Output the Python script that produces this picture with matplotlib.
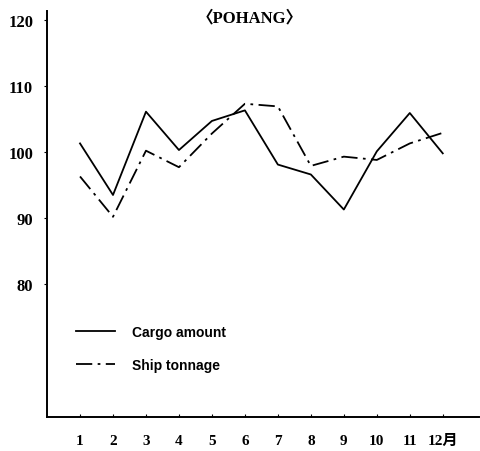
import numpy as np
import matplotlib
matplotlib.use("Agg")
from matplotlib import pyplot as plt

months = np.arange(1, 13)
month_labels = ['1', '2', '3', '4', '5', '6', '7', '8', '9', '10', '11', '12月']
cargo = [101.3, 93.5, 106.1, 100.3, 104.7, 106.3, 98.1, 96.6, 91.3, 100.1, 105.9, 99.8]
tonnage = [96.3, 90.2, 100.2, 97.7, 102.8, 107.3, 106.9, 97.9, 99.3, 98.8, 101.3, 102.9]
y_ticks = [80, 90, 100, 110, 120]

serif = ['Liberation Serif', 'Noto Sans CJK JP', 'DejaVu Sans']

fig = plt.figure(figsize=(4.8, 4.52), dpi=100)
ax = fig.add_axes([0.098, 0.075, 0.90, 0.898])

ax.plot(months, cargo, color='black', lw=1.3, label='Cargo amount')
ax.plot(months, tonnage, color='black', lw=1.3, dashes=(9, 3, 1.5, 3), label='Ship tonnage')

ax.set_xlim(0, 13.1)
ax.set_ylim(59.9, 121.3)

ax.spines['top'].set_visible(False)
ax.spines['right'].set_visible(False)
ax.spines['left'].set_linewidth(1.4)
ax.spines['bottom'].set_linewidth(1.4)

ax.set_xticks(months)
ax.set_xticklabels(month_labels, family=serif, fontsize=11, fontweight='bold')
ax.set_yticks(y_ticks)
ax.set_yticklabels([str(v) for v in y_ticks], family=serif, fontsize=12, fontweight='bold')
ax.tick_params(axis='x', direction='in', length=2, pad=12)
ax.tick_params(axis='y', direction='out', length=2, pad=8)

ax.text(0.47, 0.985, '〈POHANG〉', transform=ax.transAxes, ha='center', va='center',
        family=serif, fontsize=12, fontweight='bold')

leg = ax.legend(loc='upper left', bbox_to_anchor=(0.067, 0.227), frameon=False,
                borderpad=0, borderaxespad=0, handlelength=2.8, handletextpad=1.2,
                labelspacing=1.35, prop={'family': 'Liberation Sans', 'size': 10, 'weight': 'bold'})

fig.savefig('out.png', dpi=100)
